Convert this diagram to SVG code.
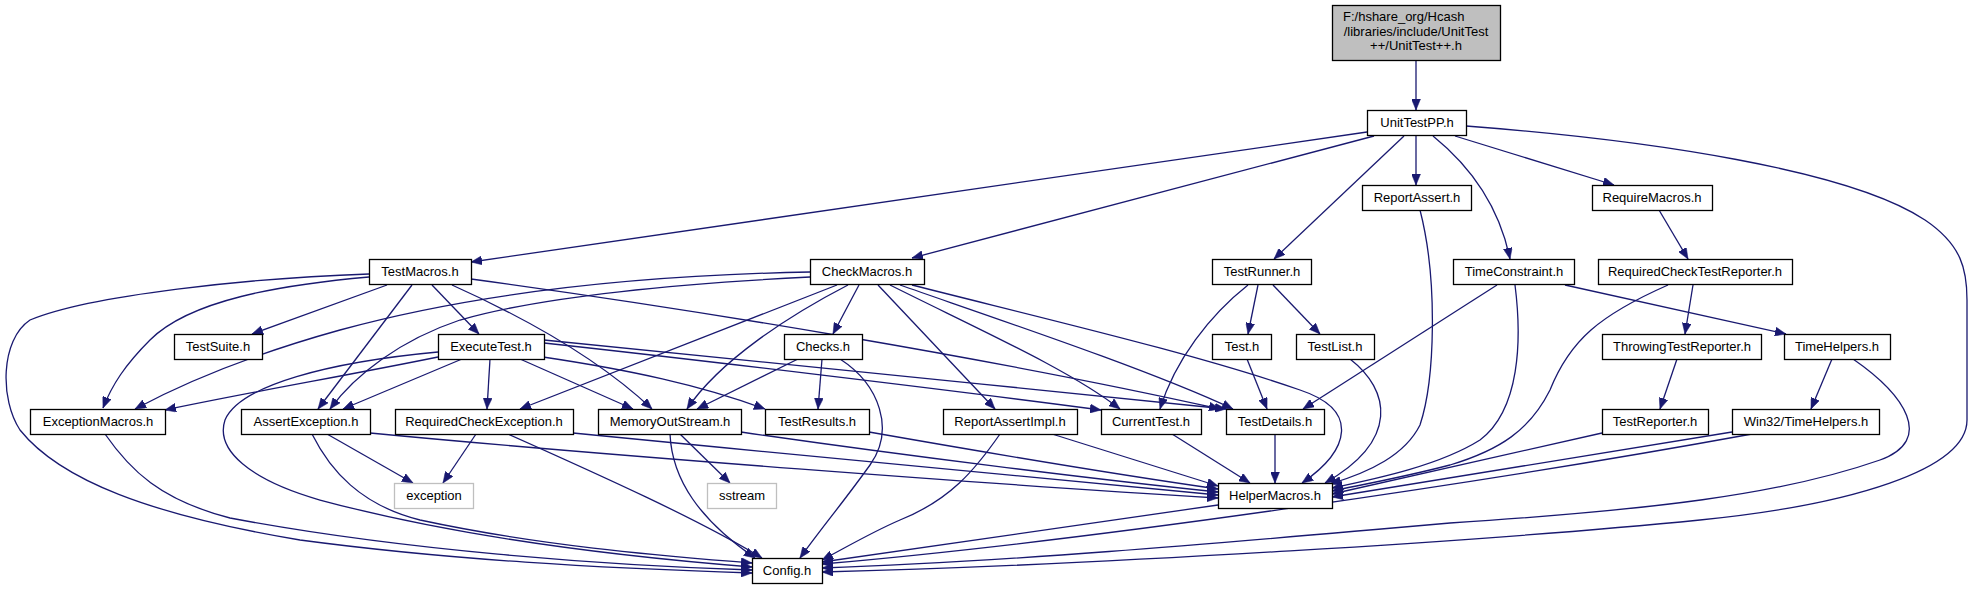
<svg xmlns="http://www.w3.org/2000/svg" width="1973" height="589" viewBox="0 0 1973 589">
<style>
.n rect{fill:#fff;stroke:#000;stroke-width:1.3}
.x rect{fill:#fff;stroke:#bfbfbf;stroke-width:1.3}
.r rect{fill:#bfbfbf;stroke:#000;stroke-width:1.3}
text{font-family:"Liberation Sans",Arial,sans-serif;font-size:13px;fill:#000}
.n text,.x text{text-anchor:middle}
#edges path{fill:none;stroke:#191970;stroke-width:1.3;marker-end:url(#a)}
</style>
<defs>
<marker id="a" viewBox="0 0 11 9" refX="11" refY="4.5" markerWidth="11" markerHeight="9" markerUnits="userSpaceOnUse" orient="auto">
<path d="M0,0 L11,4.5 L0,9 z" fill="#191970" stroke="#191970" stroke-width="0.5"/>
</marker>
</defs>
<rect width="1973" height="589" fill="#fff"/>
<g id="edges">
<path d="M1416,60 L1416,110"/>
<path d="M1367,132 L471,262"/>
<path d="M1374,136 L912,258"/>
<path d="M1404,136 L1274,259"/>
<path d="M1416,135 L1416,185"/>
<path d="M1433,136 C1475,170 1500,210 1510,259"/>
<path d="M1455,136 L1614,185"/>
<path d="M1466,126 C1650,140 1850,170 1925,220 C1962,245 1967,270 1967,300 L1967,420 C1967,470 1850,505 1700,520 C1500,540 1100,565 822,572"/>
<path d="M369,274 C250,278 90,295 30,320 C0,340 0,400 20,430 C60,480 150,515 300,540 C450,560 600,568 752,573"/>
<path d="M369,277 C280,285 190,300 150,340 C125,365 112,385 103,408"/>
<path d="M387,285 L252,334"/>
<path d="M412,285 L318,409"/>
<path d="M432,285 L479,334"/>
<path d="M452,285 C530,320 600,360 652,409"/>
<path d="M471,279 C700,310 1000,360 1220,409"/>
<path d="M810,272 C600,276 450,300 340,330 C250,355 180,385 135,409"/>
<path d="M810,277 C650,285 530,300 460,320 C400,340 355,375 330,409"/>
<path d="M837,285 L520,409"/>
<path d="M848,285 C790,315 720,360 687,409"/>
<path d="M859,285 L833,334"/>
<path d="M878,285 L995,409"/>
<path d="M890,285 C980,330 1070,370 1120,409"/>
<path d="M900,285 C1000,320 1150,370 1233,409"/>
<path d="M912,285 C1050,320 1200,355 1300,390 C1360,410 1350,450 1302,483"/>
<path d="M438,357 C350,375 250,392 165,410"/>
<path d="M462,359 L343,409"/>
<path d="M438,352 C330,362 240,385 225,420 C215,450 250,480 320,500 C450,535 600,555 752,567"/>
<path d="M490,359 L487,409"/>
<path d="M520,359 L633,409"/>
<path d="M543,357 C630,370 700,385 765,409"/>
<path d="M544,343 C700,360 950,390 1101,410"/>
<path d="M544,340 C750,362 1000,385 1226,409"/>
<path d="M798,359 L697,409"/>
<path d="M822,359 L818,409"/>
<path d="M840,359 C880,385 895,430 870,465 C845,500 820,530 800,558"/>
<path d="M327,434 L413,483"/>
<path d="M312,434 C330,470 360,505 420,520 C550,548 680,557 752,563"/>
<path d="M370,433 C600,455 1000,485 1218,498"/>
<path d="M476,434 L443,483"/>
<path d="M508,434 C600,475 700,520 762,558"/>
<path d="M573,433 C800,455 1050,480 1218,495"/>
<path d="M680,434 L730,483"/>
<path d="M670,434 C672,480 700,520 755,558"/>
<path d="M741,432 C900,455 1100,480 1218,492"/>
<path d="M869,432 C1000,455 1120,475 1218,489"/>
<path d="M1000,434 C975,470 950,500 900,520 C870,533 845,548 822,560"/>
<path d="M1052,434 L1218,486"/>
<path d="M1172,434 L1250,483"/>
<path d="M1275,434 L1275,483"/>
<path d="M1258,285 L1248,334"/>
<path d="M1273,285 L1320,334"/>
<path d="M1248,285 C1210,315 1175,360 1160,409"/>
<path d="M1247,359 L1267,409"/>
<path d="M1350,359 C1390,390 1400,440 1325,483"/>
<path d="M1420,210 C1438,280 1435,380 1420,425 C1405,455 1370,472 1330,484"/>
<path d="M1497,285 L1303,409"/>
<path d="M1515,285 C1522,340 1520,410 1480,440 C1440,465 1380,478 1332,488"/>
<path d="M1565,285 L1786,334"/>
<path d="M1659,210 L1688,259"/>
<path d="M1693,285 L1685,334"/>
<path d="M1668,285 C1600,315 1570,340 1550,390 C1530,430 1500,450 1450,465 C1400,478 1360,485 1332,491"/>
<path d="M1677,359 L1660,409"/>
<path d="M1832,359 L1811,409"/>
<path d="M1853,359 C1905,395 1935,440 1880,460 C1780,495 1650,510 1450,523 C1200,545 1000,562 822,568"/>
<path d="M1602,433 L1332,494"/>
<path d="M1732,432 L1332,497"/>
<path d="M1752,434 C1500,480 1100,540 822,564"/>
<path d="M1218,505 L822,562"/>
<path d="M105,434 C130,470 160,500 230,518 C400,550 600,565 752,570"/>
</g>
<g id="root" class="r"><rect x="1332.5" y="5.5" width="168" height="55"/><text x="1343" y="21">F:/hshare_org/Hcash</text><text x="1416" y="35.5" text-anchor="middle">/libraries/include/UnitTest</text><text x="1416" y="50" text-anchor="middle">++/UnitTest++.h</text></g>
<g id="UnitTestPP" class="n"><rect x="1367.5" y="110.5" width="99" height="25"/><text x="1417" y="127">UnitTestPP.h</text></g>
<g id="ReportAssert" class="n"><rect x="1362.5" y="185.5" width="109" height="25"/><text x="1417" y="202">ReportAssert.h</text></g>
<g id="RequireMacros" class="n"><rect x="1592.5" y="185.5" width="120" height="25"/><text x="1652" y="202">RequireMacros.h</text></g>
<g id="TestMacros" class="n"><rect x="369.5" y="259.5" width="102" height="25"/><text x="420" y="276">TestMacros.h</text></g>
<g id="CheckMacros" class="n"><rect x="810.5" y="259.5" width="114" height="25"/><text x="867" y="276">CheckMacros.h</text></g>
<g id="TestRunner" class="n"><rect x="1212.5" y="259.5" width="99" height="25"/><text x="1262" y="276">TestRunner.h</text></g>
<g id="TimeConstraint" class="n"><rect x="1453.5" y="259.5" width="121" height="25"/><text x="1514" y="276">TimeConstraint.h</text></g>
<g id="RequiredCheckTestReporter" class="n"><rect x="1598.5" y="259.5" width="194" height="25"/><text x="1695" y="276">RequiredCheckTestReporter.h</text></g>
<g id="TestSuite" class="n"><rect x="174.5" y="334.5" width="88" height="25"/><text x="218" y="351">TestSuite.h</text></g>
<g id="ExecuteTest" class="n"><rect x="438.5" y="334.5" width="106" height="25"/><text x="491" y="351">ExecuteTest.h</text></g>
<g id="Checks" class="n"><rect x="784.5" y="334.5" width="78" height="25"/><text x="823" y="351">Checks.h</text></g>
<g id="Test" class="n"><rect x="1212.5" y="334.5" width="59" height="25"/><text x="1242" y="351">Test.h</text></g>
<g id="TestList" class="n"><rect x="1296.5" y="334.5" width="78" height="25"/><text x="1335" y="351">TestList.h</text></g>
<g id="ThrowingTestReporter" class="n"><rect x="1602.5" y="334.5" width="159" height="25"/><text x="1682" y="351">ThrowingTestReporter.h</text></g>
<g id="TimeHelpers" class="n"><rect x="1784.5" y="334.5" width="106" height="25"/><text x="1837" y="351">TimeHelpers.h</text></g>
<g id="ExceptionMacros" class="n"><rect x="30.5" y="409.5" width="135" height="25"/><text x="98" y="426">ExceptionMacros.h</text></g>
<g id="AssertException" class="n"><rect x="241.5" y="409.5" width="129" height="25"/><text x="306" y="426">AssertException.h</text></g>
<g id="RequiredCheckException" class="n"><rect x="395.5" y="409.5" width="178" height="25"/><text x="484" y="426">RequiredCheckException.h</text></g>
<g id="MemoryOutStream" class="n"><rect x="598.5" y="409.5" width="143" height="25"/><text x="670" y="426">MemoryOutStream.h</text></g>
<g id="TestResults" class="n"><rect x="765.5" y="409.5" width="104" height="25"/><text x="817" y="426">TestResults.h</text></g>
<g id="ReportAssertImpl" class="n"><rect x="943.5" y="409.5" width="134" height="25"/><text x="1010" y="426">ReportAssertImpl.h</text></g>
<g id="CurrentTest" class="n"><rect x="1101.5" y="409.5" width="100" height="25"/><text x="1151" y="426">CurrentTest.h</text></g>
<g id="TestDetails" class="n"><rect x="1226.5" y="409.5" width="98" height="25"/><text x="1275" y="426">TestDetails.h</text></g>
<g id="TestReporter" class="n"><rect x="1602.5" y="409.5" width="106" height="25"/><text x="1655" y="426">TestReporter.h</text></g>
<g id="Win32TimeHelpers" class="n"><rect x="1732.5" y="409.5" width="147" height="25"/><text x="1806" y="426">Win32/TimeHelpers.h</text></g>
<g id="exception" class="x"><rect x="394.5" y="483.5" width="79" height="25"/><text x="434" y="500">exception</text></g>
<g id="sstream" class="x"><rect x="707.5" y="483.5" width="69" height="25"/><text x="742" y="500">sstream</text></g>
<g id="HelperMacros" class="n"><rect x="1218.5" y="483.5" width="114" height="25"/><text x="1275" y="500">HelperMacros.h</text></g>
<g id="Config" class="n"><rect x="752.5" y="558.5" width="70" height="25"/><text x="787" y="575">Config.h</text></g>
</svg>
